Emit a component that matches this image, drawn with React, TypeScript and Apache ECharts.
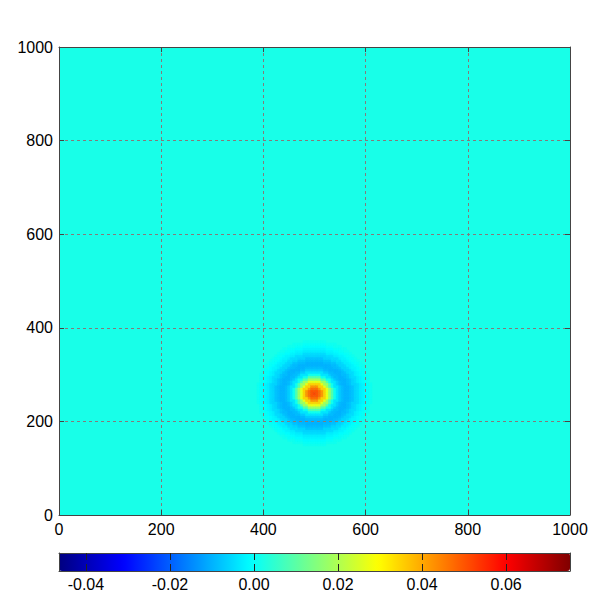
import React, { useEffect, useRef } from "react";
import * as echarts from "echarts";

// ---- data ----
const axisTicks = [0, 200, 400, 600, 800, 1000];
const colorbarTicks = [-0.04, -0.02, 0, 0.02, 0.04, 0.06];
const colorMin = -0.0464;
const colorMax = 0.0752;
const backgroundValue = 0.002;
const blobCenter = [500, 260];
const radialStep = 5; // data units between profile samples (also cell size)
const radialProfile = [
  0.052, 0.05, 0.047, 0.042, 0.035, 0.027, 0.018, 0.009, 0.001, -0.004, -0.007,
  -0.009, -0.01, -0.01, -0.009, -0.008, -0.006, -0.005, -0.003, -0.002, -0.001,
  0.0, 0.001,
];
const jetColors = [
  "#000080", "#0000ff", "#0080ff", "#00ffff", "#80ff80",
  "#ffff00", "#ff8000", "#ff0000", "#800000",
];

function buildCells(): number[][] {
  const cells: number[][] = [[0, 0, 1000, 1000, backgroundValue]];
  const n = radialProfile.length - 1;
  for (let i = -n; i <= n; i++) {
    for (let j = -n; j <= n; j++) {
      const d = Math.sqrt(i * i + j * j);
      const k = Math.round(d);
      if (k > n) continue;
      const cx = blobCenter[0] + i * radialStep;
      const cy = blobCenter[1] + j * radialStep;
      cells.push([
        cx - radialStep / 2,
        cy - radialStep / 2,
        cx + radialStep / 2,
        cy + radialStep / 2,
        radialProfile[k],
      ]);
    }
  }
  return cells;
}

const FONT = "'Liberation Sans', Arial, Helvetica, sans-serif";

export default function App() {
  const ref = useRef<HTMLDivElement>(null);
  useEffect(() => {
    document.body.style.margin = "0";
    if (!ref.current) return;
    const chart = echarts.init(ref.current, null, { renderer: "svg" });
    const frame = { show: true, onZero: false, lineStyle: { color: "#444", width: 1 } };
    const split = {
      show: true,
      lineStyle: { color: "#857a7a", type: [3, 3] as any, width: 1 },
    };
    const label = { color: "#000", fontSize: 16, fontFamily: FONT };
    const fmtInt = (v: number) => String(Math.round(v));
    chart.setOption({
      animation: false,
      backgroundColor: "#fff",
      grid: [
        { left: 59, top: 47, width: 511, height: 468 },
        { left: 59, top: 553, width: 511, height: 18 },
      ],
      xAxis: [
        {
          gridIndex: 0, type: "value", min: 0, max: 1000, interval: 200, z: 5,
          axisLine: frame,
          axisTick: { show: true, inside: true, length: 5, lineStyle: { color: "#444" } },
          axisLabel: { ...label, margin: 6, formatter: fmtInt },
          splitLine: split,
        },
        {
          gridIndex: 0, type: "value", min: 0, max: 1000, interval: 200, position: "top", z: 5,
          axisLine: frame,
          axisTick: { show: true, inside: true, length: 5, lineStyle: { color: "#444" } },
          axisLabel: { show: false },
          splitLine: { show: false },
        },
        {
          gridIndex: 1, type: "value", min: colorMin, max: colorMax, z: 10,
          axisLine: frame,
          axisTick: { show: true, inside: true, length: 7, lineStyle: { color: "#222" }, customValues: colorbarTicks },
          axisLabel: {
            ...label, margin: 5, customValues: colorbarTicks,
            formatter: (v: number) => v.toFixed(2),
          },
          splitLine: { show: false },
        },
        {
          gridIndex: 1, type: "value", min: colorMin, max: colorMax, position: "top", z: 10,
          axisLine: frame,
          axisTick: { show: true, inside: true, length: 7, lineStyle: { color: "#222" }, customValues: colorbarTicks },
          axisLabel: { show: false, customValues: colorbarTicks },
          splitLine: { show: false },
        },
      ],
      yAxis: [
        {
          gridIndex: 0, type: "value", min: 0, max: 1000, interval: 200, z: 5,
          axisLine: frame,
          axisTick: { show: true, inside: true, length: 5, lineStyle: { color: "#444" } },
          axisLabel: { ...label, margin: 6, formatter: fmtInt },
          splitLine: split,
        },
        {
          gridIndex: 0, type: "value", min: 0, max: 1000, interval: 200, position: "right", z: 5,
          axisLine: frame,
          axisTick: { show: true, inside: true, length: 5, lineStyle: { color: "#444" } },
          axisLabel: { show: false },
          splitLine: { show: false },
        },
        {
          gridIndex: 1, type: "value", min: 0, max: 1, z: 10,
          axisLine: frame, axisTick: { show: false }, axisLabel: { show: false }, splitLine: { show: false },
        },
        {
          gridIndex: 1, type: "value", min: 0, max: 1, position: "right", z: 10,
          axisLine: frame, axisTick: { show: false }, axisLabel: { show: false }, splitLine: { show: false },
        },
      ],
      visualMap: {
        type: "continuous",
        seriesIndex: 0,
        dimension: 4,
        min: colorMin,
        max: colorMax,
        orient: "horizontal",
        left: 59,
        top: 553,
        itemWidth: 18,
        itemHeight: 511,
        padding: 0,
        z: 1,
        calculable: false,
        hoverLink: false,
        text: null,
        showLabel: false,
        inRange: { color: jetColors },
      },
      series: [
        {
          type: "custom",
          xAxisIndex: 0,
          yAxisIndex: 0,
          clip: true,
          z: 1,
          encode: { x: [0, 2], y: [1, 3] },
          data: buildCells(),
          renderItem: (params: any, api: any) => {
            const p0 = api.coord([api.value(0), api.value(1)]);
            const p1 = api.coord([api.value(2), api.value(3)]);
            const c = api.visual("color");
            return {
              type: "rect",
              shape: { x: p0[0], y: p1[1], width: p1[0] - p0[0], height: p0[1] - p1[1] },
              style: { fill: c, stroke: c, lineWidth: 0.6 },
            };
          },
        },
      ],
    });
    return () => chart.dispose();
  }, []);
  return <div ref={ref} style={{ width: 600, height: 600 }} />;
}
